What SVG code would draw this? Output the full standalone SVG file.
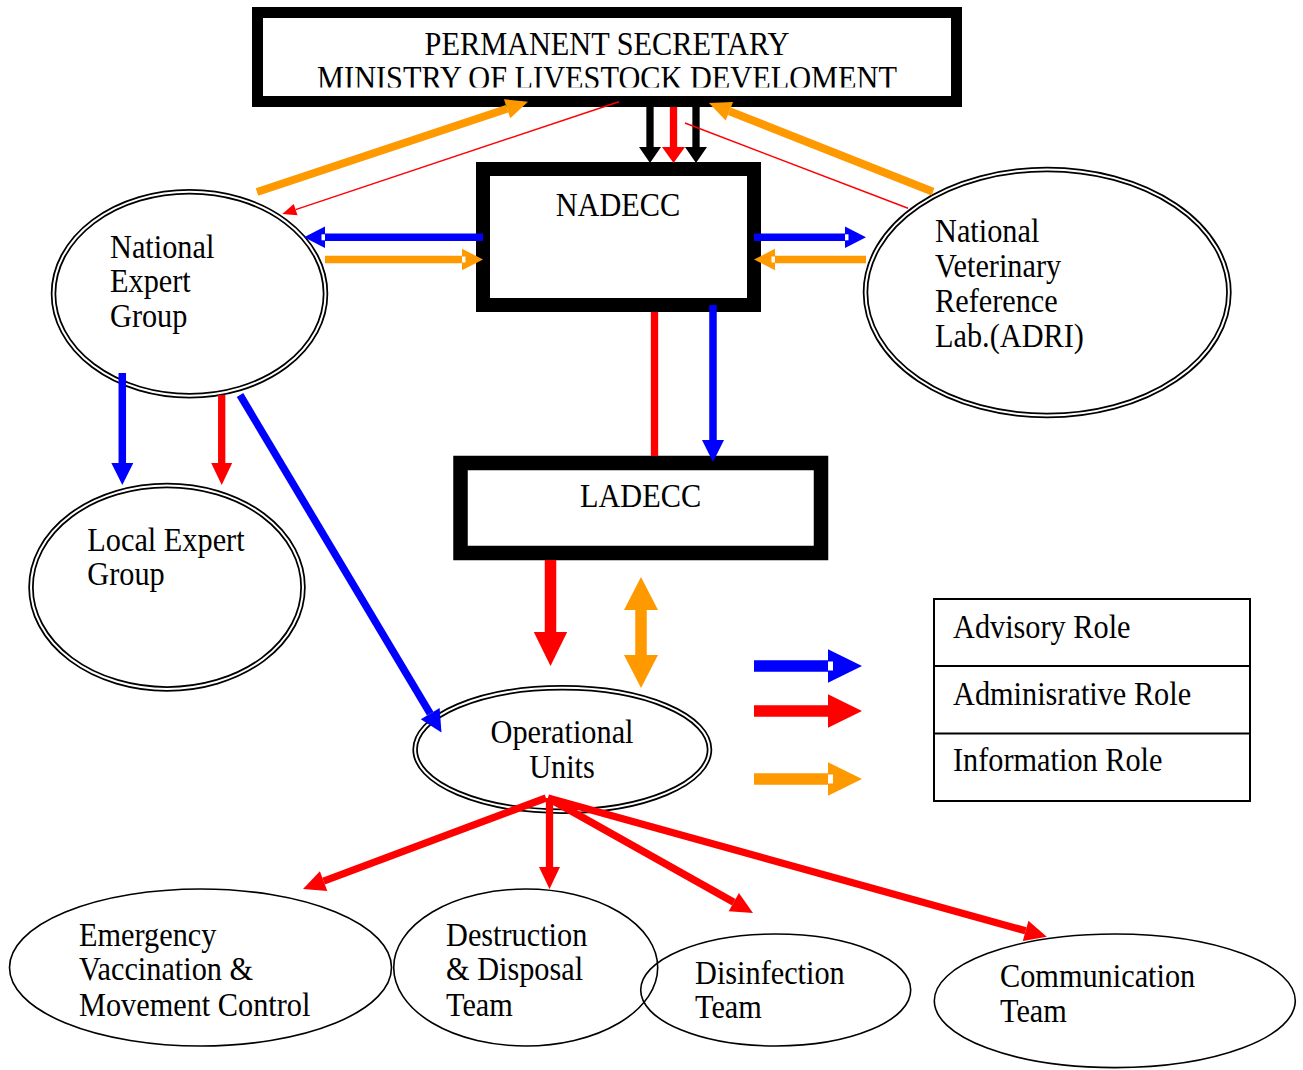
<svg xmlns="http://www.w3.org/2000/svg" width="1303" height="1070" viewBox="0 0 1303 1070">
<style>
.t{font-family:"Liberation Serif","Times New Roman",serif;font-size:30.3px;fill:#000}
.m{text-anchor:middle}
.box{fill:#fff;stroke:#000}
.dblo{fill:#fff;stroke:#000;stroke-width:5.5}
.dbli{fill:none;stroke:#fff;stroke-width:2}
.sgl{fill:none;stroke:#000;stroke-width:1.6}
.leg{fill:#fff;stroke:#000;stroke-width:2}
.c{fill:none;stroke-linecap:butt}
.blk{stroke:#000;stroke-width:7.3}
.red{stroke:#f00;stroke-width:7.3}
.redT{stroke:#f00;stroke-width:1.5}
.blu{stroke:#00f;stroke-width:7.5}
.org{stroke:#f90;stroke-width:8}
.orgH{stroke:#f90;stroke-width:7.5}
.big{stroke-width:11.5}
</style>
<defs>
<marker id="mBlk" markerUnits="userSpaceOnUse" markerWidth="1" markerHeight="1" orient="auto" overflow="visible"><path d="M0,-11 L16,0 L0,11 z" fill="#000"/></marker>
<marker id="mRedTop" markerUnits="userSpaceOnUse" markerWidth="1" markerHeight="1" orient="auto" overflow="visible"><path d="M0,-11.5 L16,0 L0,11.5 z" fill="#f00"/></marker>
<marker id="mRed" markerUnits="userSpaceOnUse" markerWidth="1" markerHeight="1" orient="auto" overflow="visible"><path d="M0,-10.5 L22,0 L0,10.5 z" fill="#f00"/></marker>
<marker id="mRedBig" markerUnits="userSpaceOnUse" markerWidth="1" markerHeight="1" orient="auto" overflow="visible"><path d="M0,-16.7 L34,0 L0,16.7 z" fill="#f00"/></marker>
<marker id="mRedThin" markerUnits="userSpaceOnUse" markerWidth="1" markerHeight="1" orient="auto" overflow="visible"><path d="M0,-6 L14,0 L0,6 z" fill="#f00"/></marker>
<marker id="mBlue" markerUnits="userSpaceOnUse" markerWidth="1" markerHeight="1" orient="auto" overflow="visible"><path d="M0,-11 L22,0 L0,11 z" fill="#00f"/></marker>
<marker id="mBlueN" markerUnits="userSpaceOnUse" markerWidth="1" markerHeight="1" orient="auto" overflow="visible"><path d="M0,-10.7 L21,0 L0,10.7 z" fill="#00f"/><rect x="0" y="-3" width="3.5" height="6" fill="#fff"/></marker>
<marker id="mBlueBigN" markerUnits="userSpaceOnUse" markerWidth="1" markerHeight="1" orient="auto" overflow="visible"><path d="M0,-16.7 L34,0 L0,16.7 z" fill="#00f"/><rect x="0" y="-4.5" width="5" height="9" fill="#fff"/></marker>
<marker id="mOrg" markerUnits="userSpaceOnUse" markerWidth="1" markerHeight="1" orient="auto" overflow="visible"><path d="M0,-10 L22,0 L0,10 z" fill="#f90"/></marker>
<marker id="mOrgN" markerUnits="userSpaceOnUse" markerWidth="1" markerHeight="1" orient="auto" overflow="visible"><path d="M0,-10.7 L21,0 L0,10.7 z" fill="#f90"/><rect x="0" y="-3" width="3.5" height="6" fill="#fff"/></marker>
<marker id="mOrgBig" markerUnits="userSpaceOnUse" markerWidth="1" markerHeight="1" orient="auto-start-reverse" overflow="visible"><path d="M0,-17 L33,0 L0,17 z" fill="#f90"/></marker>
<marker id="mOrgBigN" markerUnits="userSpaceOnUse" markerWidth="1" markerHeight="1" orient="auto" overflow="visible"><path d="M0,-16.7 L34,0 L0,16.7 z" fill="#f90"/><rect x="0" y="-4.5" width="5" height="9" fill="#fff"/></marker>
<clipPath id="clipTop"><rect x="0" y="0" width="1303" height="87.5"/></clipPath>
</defs>
<rect width="1303" height="1070" fill="#fff"/>

<g id="permanent-secretary">
<rect class="box" x="257.5" y="12.5" width="699" height="89" stroke-width="11"/>
<g clip-path="url(#clipTop)">
<text class="t m" transform="translate(607 54.5) scale(1 1.1)"><tspan x="0" y="0">PERMANENT SECRETARY</tspan><tspan x="0" y="31.8">MINISTRY OF LIVESTOCK DEVELOMENT</tspan></text>
</g>
</g>

<g id="nadecc">
<rect class="box" x="483" y="169" width="271" height="136" stroke-width="14"/>
<text class="t m" transform="translate(618 216) scale(1 1.1)">NADECC</text>
</g>

<g id="ladecc">
<rect class="box" x="460.5" y="463" width="360.5" height="90" stroke-width="14.5"/>
<text class="t m" transform="translate(640.5 507) scale(1 1.1)">LADECC</text>
</g>

<g id="national-expert-group">
<ellipse class="dblo" cx="189.5" cy="293.7" rx="136" ry="102"/>
<ellipse class="dbli" cx="189.5" cy="293.7" rx="136" ry="102"/>
<text class="t" transform="translate(110 257.5) scale(1 1.1)"><tspan x="0" y="0">National</tspan><tspan x="0" y="31.5">Expert</tspan><tspan x="0" y="63.1">Group</tspan></text>
</g>

<g id="national-veterinary-reference-lab">
<ellipse class="dblo" cx="1047.2" cy="292.5" rx="181.7" ry="123"/>
<ellipse class="dbli" cx="1047.2" cy="292.5" rx="181.7" ry="123"/>
<text class="t" transform="translate(935 241.7) scale(1 1.1)"><tspan x="0" y="0">National</tspan><tspan x="0" y="31.8">Veterinary</tspan><tspan x="0" y="63.6">Reference</tspan><tspan x="0" y="95.5">Lab.(ADRI)</tspan></text>
</g>

<g id="local-expert-group">
<ellipse class="dblo" cx="167" cy="587.2" rx="136" ry="101.7"/>
<ellipse class="dbli" cx="167" cy="587.2" rx="136" ry="101.7"/>
<text class="t" transform="translate(87.3 550.5) scale(1 1.1)"><tspan x="0" y="0">Local Expert</tspan><tspan x="0" y="31.8">Group</tspan></text>
</g>

<g id="operational-units">
<ellipse class="dblo" cx="562.3" cy="749.5" rx="147.2" ry="61.7"/>
<ellipse class="dbli" cx="562.3" cy="749.5" rx="147.2" ry="61.7"/>
<text class="t m" transform="translate(562 742.7) scale(1 1.1)"><tspan x="0" y="0">Operational</tspan><tspan x="0" y="31.8">Units</tspan></text>
</g>

<g id="emergency-vaccination">
<ellipse class="sgl" cx="200.5" cy="967.5" rx="191" ry="78.5"/>
<text class="t" transform="translate(79 945.7) scale(1 1.1)"><tspan x="0" y="0">Emergency</tspan><tspan x="0" y="31.2">Vaccination &amp;</tspan><tspan x="0" y="63.9">Movement Control</tspan></text>
</g>

<g id="destruction-disposal">
<ellipse class="sgl" cx="525.7" cy="967.5" rx="132" ry="78.5"/>
<text class="t" transform="translate(446 945.7) scale(1 1.1)"><tspan x="0" y="0">Destruction</tspan><tspan x="0" y="31.2">&amp; Disposal</tspan><tspan x="0" y="63.9">Team</tspan></text>
</g>

<g id="disinfection-team">
<ellipse class="sgl" cx="775.7" cy="990" rx="135" ry="56"/>
<text class="t" transform="translate(695 984) scale(1 1.1)"><tspan x="0" y="0">Disinfection</tspan><tspan x="0" y="31.2">Team</tspan></text>
</g>

<g id="communication-team">
<ellipse class="sgl" cx="1114.8" cy="1000.8" rx="180.5" ry="66.8"/>
<text class="t" transform="translate(1000 986.7) scale(1 1.1)"><tspan x="0" y="0">Communication</tspan><tspan x="0" y="31.8">Team</tspan></text>
</g>

<g id="legend">
<rect class="leg" x="934" y="599" width="316" height="202"/>
<line x1="934" y1="666" x2="1250" y2="666" stroke="#000" stroke-width="2"/>
<line x1="934" y1="733.5" x2="1250" y2="733.5" stroke="#000" stroke-width="2"/>
<text class="t" transform="translate(953 638) scale(1 1.1)">Advisory Role</text>
<text class="t" transform="translate(953 704.5) scale(1 1.1)">Adminisrative Role</text>
<text class="t" transform="translate(953 771) scale(1 1.1)">Information Role</text>
<line class="c blu big" x1="754" y1="666" x2="828" y2="666" marker-end="url(#mBlueBigN)"/>
<line class="c red big" x1="754" y1="711" x2="828" y2="711" marker-end="url(#mRedBig)"/>
<line class="c orgH big" x1="754" y1="779" x2="828" y2="779" marker-end="url(#mOrgBigN)"/>
</g>

<g id="connectors">
<line class="c blk" x1="650" y1="107" x2="650" y2="147" marker-end="url(#mBlk)"/>
<line class="c blk" x1="696" y1="107" x2="696" y2="147" marker-end="url(#mBlk)"/>
<line class="c red" x1="673.5" y1="107" x2="673.5" y2="147" marker-end="url(#mRedTop)"/>
<line class="c org" x1="257" y1="192" x2="507.1" y2="108.7" marker-end="url(#mOrg)"/>
<line class="c org" x1="933" y1="191.7" x2="729.4" y2="111.2" marker-end="url(#mOrg)"/>
<line class="c redT" x1="619" y1="101.7" x2="295.6" y2="209.6" marker-end="url(#mRedThin)"/>
<line class="c redT" x1="685" y1="123" x2="908" y2="208.3"/>
<line class="c blu" x1="483" y1="237.3" x2="325" y2="237.3" marker-end="url(#mBlueN)"/>
<line class="c orgH" x1="325" y1="259.5" x2="462" y2="259.5" marker-end="url(#mOrgN)"/>
<line class="c blu" x1="754" y1="237.3" x2="845" y2="237.3" marker-end="url(#mBlueN)"/>
<line class="c orgH" x1="866" y1="259.5" x2="775" y2="259.5" marker-end="url(#mOrgN)"/>
<line class="c blu" x1="713" y1="305" x2="713" y2="440" marker-end="url(#mBlue)"/>
<line class="c red" x1="654.5" y1="312" x2="654.5" y2="456"/>
<line class="c blu" x1="122.3" y1="373" x2="122.3" y2="463" marker-end="url(#mBlue)"/>
<line class="c red" x1="221.7" y1="395" x2="221.7" y2="463" marker-end="url(#mRed)"/>
<line class="c blu" x1="240" y1="395" x2="430.2" y2="713.6" marker-end="url(#mBlue)"/>
<line class="c red big" x1="550.5" y1="560" x2="550.5" y2="632" marker-end="url(#mRedBig)"/>
<line class="c orgH big" x1="641" y1="610" x2="641" y2="655" marker-start="url(#mOrgBig)" marker-end="url(#mOrgBig)"/>
<line class="c red" x1="546" y1="798" x2="323.6" y2="881.2" marker-end="url(#mRed)"/>
<line class="c red" x1="549.5" y1="798" x2="549.5" y2="867" marker-end="url(#mRed)"/>
<line class="c red" x1="548" y1="798" x2="733.8" y2="902.2" marker-end="url(#mRed)"/>
<line class="c red" x1="548" y1="798" x2="1025.6" y2="930.8" marker-end="url(#mRed)"/>
</g>
</svg>
